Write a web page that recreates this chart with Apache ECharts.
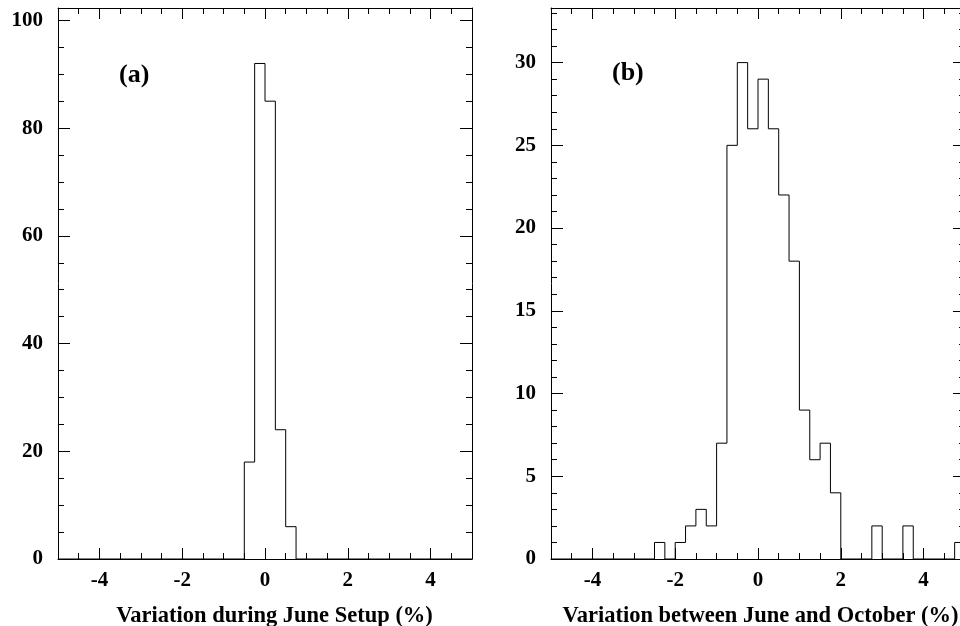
<!DOCTYPE html>
<html>
<head>
<meta charset="utf-8">
<script src="https://cdn.jsdelivr.net/npm/echarts@6/dist/echarts.min.js"></script>
<style>
  html, body { margin: 0; padding: 0; background: #fff; }
  #main { width: 960px; height: 626px; }
</style>
</head>
<body>
<div id="main"></div>
<script>
// histogram (a): bin width 0.25, first bin starts at -0.5
var binWidth = 0.25;
var startA = -0.5;
var countsA = [18, 92, 85, 24, 6];

// histogram (b): first bin starts at -2.5
var startB = -2.5;
var countsB = [1, 0, 1, 2, 3, 2, 7, 25, 30, 26, 29, 26, 22, 18, 9, 6, 7, 4,
               0, 0, 0, 2, 0, 0, 2, 0, 0, 0, 0, 1];

var xTicks = [-4, -2, 0, 2, 4];
var yTicksA = [0, 20, 40, 60, 80, 100];
var yTicksB = [0, 5, 10, 15, 20, 25, 30];

var titleA = 'Variation during June Setup (%)';
var titleB = 'Variation between June and October (%)';

var FONT = "'Liberation Serif', 'Times New Roman', serif";
var black = { color: '#000', width: 1 };

// outline of a histogram as step points (left edge, count)
function outline(start, counts) {
    var pts = [[-5, 0]];
    for (var i = 0; i < counts.length; i++) {
        pts.push([start + i * binWidth, counts[i]]);
    }
    pts.push([start + counts.length * binWidth, 0]);
    if (pts[pts.length - 1][0] < 5) pts.push([5, 0]);
    return pts;
}

var xAxes = [], yAxes = [];

// four x axes per grid: bottom minor, bottom major (labels), top minor, top major
function addXAxes(grid, name, namePad) {
    var base = { type: 'value', gridIndex: grid, min: -5, max: 5, interval: 0.5,
                 splitLine: { show: false } };
    var idx = xAxes.length;
    xAxes.push(Object.assign({}, base, {
        position: 'bottom',
        axisLine: { show: true, onZero: false, lineStyle: black },
        axisTick: { inside: true, length: 6, lineStyle: black },
        axisLabel: { show: false }
    }));
    xAxes.push(Object.assign({}, base, {
        position: 'bottom',
        axisLine: { show: false, onZero: false },
        axisTick: { inside: true, length: 11, lineStyle: black, customValues: xTicks },
        axisLabel: { customValues: xTicks, margin: 11, color: '#000', fontFamily: FONT,
                     fontWeight: 'bold', fontSize: 21 },
        name: name, nameLocation: 'middle', nameGap: 46,
        nameTextStyle: { color: '#000', fontFamily: FONT, fontWeight: 'bold', fontSize: 22.5,
                         padding: namePad }
    }));
    xAxes.push(Object.assign({}, base, {
        position: 'top',
        axisLine: { show: true, onZero: false, lineStyle: black },
        axisTick: { inside: true, length: 6, lineStyle: black },
        axisLabel: { show: false }
    }));
    xAxes.push(Object.assign({}, base, {
        position: 'top',
        axisLine: { show: false, onZero: false },
        axisTick: { inside: true, length: 11, lineStyle: black, customValues: xTicks },
        axisLabel: { show: false }
    }));
    return idx + 1;
}

function addYAxes(grid, max, minorStep, ticks) {
    var base = { type: 'value', gridIndex: grid, min: 0, max: max, interval: minorStep,
                 splitLine: { show: false } };
    var idx = yAxes.length;
    yAxes.push(Object.assign({}, base, {
        position: 'left',
        axisLine: { show: true, onZero: false, lineStyle: black },
        axisTick: { inside: true, length: 6, lineStyle: black },
        axisLabel: { show: false }
    }));
    yAxes.push(Object.assign({}, base, {
        position: 'left',
        axisLine: { show: false, onZero: false },
        axisTick: { inside: true, length: 12, lineStyle: black, customValues: ticks },
        axisLabel: { customValues: ticks, margin: 15, color: '#000', fontFamily: FONT,
                     fontWeight: 'bold', fontSize: 21 }
    }));
    yAxes.push(Object.assign({}, base, {
        position: 'right',
        axisLine: { show: true, onZero: false, lineStyle: black },
        axisTick: { inside: true, length: 6, lineStyle: black },
        axisLabel: { show: false }
    }));
    yAxes.push(Object.assign({}, base, {
        position: 'right',
        axisLine: { show: false, onZero: false },
        axisTick: { inside: true, length: 12, lineStyle: black, customValues: ticks },
        axisLabel: { show: false }
    }));
    return idx + 1;
}

var xa = addXAxes(0, titleA, [0, 0, 0, 19]);
var ya = addYAxes(0, 102.3, 5, yTicksA);
var xb = addXAxes(1, titleB, [0, 0, 0, 5]);
var yb = addYAxes(1, 33.3, 1, yTicksB);

var option = {
    animation: false,
    backgroundColor: '#fff',
    title: [
        { text: '(a)', left: 119, top: 62, padding: 0,
          textStyle: { fontFamily: FONT, fontWeight: 'bold', fontSize: 26, color: '#000' } },
        { text: '(b)', left: 612, top: 60, padding: 0,
          textStyle: { fontFamily: FONT, fontWeight: 'bold', fontSize: 26, color: '#000' } }
    ],
    grid: [
        { left: 58, top: 8, width: 414, height: 551, outerBoundsMode: 'none', containLabel: false },
        { left: 551, top: 8, width: 414, height: 551, outerBoundsMode: 'none', containLabel: false }
    ],
    xAxis: xAxes,
    yAxis: yAxes,
    series: [
        {
            type: 'line', step: 'end', xAxisIndex: xa, yAxisIndex: ya,
            symbol: 'none', lineStyle: { color: '#000', width: 1 },
            data: outline(startA, countsA)
        },
        {
            type: 'line', step: 'end', xAxisIndex: xb, yAxisIndex: yb,
            symbol: 'none', lineStyle: { color: '#000', width: 1 },
            data: outline(startB, countsB)
        }
    ]
};

var chart = echarts.init(document.getElementById('main'));
chart.setOption(option);
</script>
</body>
</html>
